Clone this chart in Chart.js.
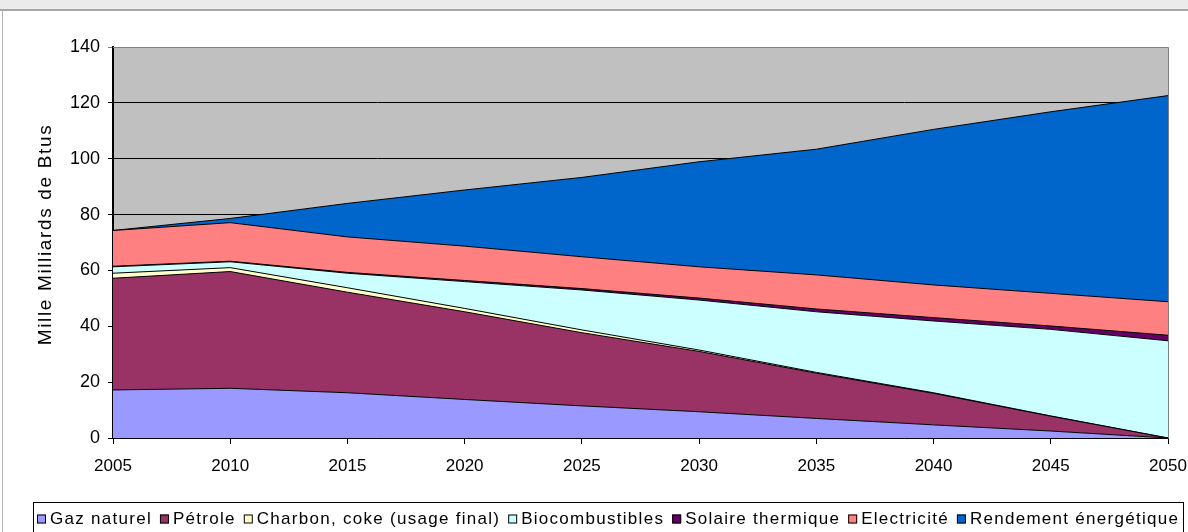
<!DOCTYPE html>
<html lang="fr">
<head>
<meta charset="utf-8">
<title>Consommation d'énergie 2005-2050</title>
<script src="https://cdn.jsdelivr.net/npm/chart.js@4.4.1/dist/chart.umd.min.js"></script>
<style>
  html, body { margin: 0; padding: 0; background: #fff; overflow: hidden; width: 1188px; height: 532px; }
  #wrap { position: absolute; left: 0; top: 0; width: 1204px; height: 532px; }
  #band { position: absolute; left: 0; top: 0; width: 1188px; height: 9px; background: #ebebeb; border-bottom: 2px solid #a6a6a6; }
  #edge { position: absolute; left: 2px; top: 10px; width: 1px; height: 522px; background: #b4b4b4; }
</style>
</head>
<body>
<div id="wrap"><canvas id="c"></canvas></div>
<div id="band"></div>
<div id="edge"></div>
<script>
// Années (axe horizontal)
const years = [2005, 2010, 2015, 2020, 2025, 2030, 2035, 2040, 2045, 2050];

// Consommation par source, en mille milliards de Btus (valeurs empilées)
const gazNaturel      = [17.2, 17.8, 16.2, 13.8, 11.5, 9.4, 7.0, 4.7, 2.5, 0];
const petrole         = [40.0, 41.8, 36.0, 31.4, 26.2, 21.6, 16.2, 11.3, 5.3, 0];
const charbon         = [1.8, 1.4, 1.6, 1.2, 1.0, 0.5, 0.3, 0.2, 0.1, 0];
const biocombustibles = [2.3, 2.1, 5.2, 9.6, 14.3, 17.9, 21.7, 25.7, 31.0, 34.8];
const solaire         = [0.2, 0.2, 0.3, 0.4, 0.5, 0.7, 1.0, 1.2, 1.2, 2.0];
const electricite     = [12.8, 13.8, 12.7, 12.3, 11.4, 11.2, 12.2, 11.7, 11.7, 12.0];
const rendement       = [0, 1.5, 12.0, 20.1, 28.4, 37.6, 45.0, 55.7, 65.0, 73.8];

const seriesNames = ['Gaz naturel', 'Pétrole', 'Charbon, coke (usage final)', 'Biocombustibles',
                     'Solaire thermique', 'Electricité', 'Rendement énergétique'];
const seriesValues = [gazNaturel, petrole, charbon, biocombustibles, solaire, electricite, rendement];
const seriesColors = ['#9999FF', '#993366', '#FFFFCC', '#CCFFFF', '#660066', '#FF8080', '#0066CC'];

const yTitle = 'Mille Milliards de Btus';
const yTicks = { min: 0, max: 140, step: 20 };
const xTicks = { min: 2005, max: 2050, step: 5 };

const FONT = '"Liberation Sans", Arial, sans-serif';

const datasets = seriesNames.map((name, i) => ({
  label: name,
  data: years.map((yr, j) => ({ x: yr, y: seriesValues[i][j] })),
  backgroundColor: seriesColors[i],
  borderColor: '#000',
  borderWidth: 1,
  pointRadius: 0,
  tension: 0,
  fill: i === 0 ? 'origin' : '-1'
}));

// Fond gris de la zone de traçage et son cadre
const plotBackground = {
  id: 'plotBackground',
  beforeDraw(chart) {
    const { ctx, chartArea: a } = chart;
    ctx.save();
    ctx.fillStyle = '#C0C0C0';
    ctx.fillRect(a.left, a.top, a.right - a.left, a.bottom - a.top);
    ctx.restore();
  },
  afterDatasetsDraw(chart) {
    const { ctx, chartArea: a } = chart;
    ctx.save();
    ctx.strokeStyle = '#808080';
    ctx.lineWidth = 1;
    ctx.beginPath();
    ctx.moveTo(a.left, a.top + 0.5);
    ctx.lineTo(a.right + 0.5, a.top + 0.5);
    ctx.lineTo(a.right + 0.5, a.bottom);
    ctx.stroke();
    ctx.restore();
  }
};

// Titre vertical de l'axe des valeurs
const axisTitle = {
  id: 'axisTitle',
  afterDraw(chart) {
    const ctx = chart.ctx;
    const a = chart.chartArea;
    ctx.save();
    ctx.font = '19px ' + FONT;
    const natural = ctx.measureText(yTitle).width;
    const ls = (220 - natural) / (yTitle.length - 1);
    ctx.letterSpacing = Math.max(0, ls).toFixed(2) + 'px';
    ctx.translate(46, (a.top + a.bottom) / 2 - 8);
    ctx.rotate(-Math.PI / 2);
    ctx.textAlign = 'center';
    ctx.textBaseline = 'middle';
    ctx.fillStyle = '#000';
    ctx.fillText(yTitle, 0, 0);
    ctx.restore();
  }
};

// Légende encadrée sur une ligne, sous le graphique
const boxLegend = {
  id: 'boxLegend',
  afterDraw(chart) {
    const ctx = chart.ctx;
    const L = 33.5, T = 502.5, R = 1183.5, cy = 519;
    ctx.save();
    ctx.strokeStyle = '#000';
    ctx.lineWidth = 1;
    ctx.strokeRect(L, T, R - L, 40);
    ctx.font = '17px ' + FONT;
    const sets = chart.data.datasets;
    const sq = 9, gapText = 4, gapItem = 8;
    let natural = 0, chars = 0;
    sets.forEach(d => { natural += ctx.measureText(d.label).width; chars += d.label.length; });
    const fixed = sets.length * (sq + gapText) + (sets.length - 1) * gapItem;
    const avail = (R - L) - 8 - fixed;
    const ls = Math.max(-0.5, Math.min(2, (avail - natural) / chars));
    ctx.letterSpacing = ls.toFixed(2) + 'px';
    ctx.textBaseline = 'middle';
    let x = L + 3.5;
    sets.forEach(d => {
      ctx.fillStyle = d.backgroundColor;
      ctx.fillRect(x, cy - 4.5, sq, sq);
      ctx.strokeRect(x + 0.5, cy - 4, sq - 1, sq - 1);
      ctx.fillStyle = '#000';
      ctx.fillText(d.label, x + sq + gapText, cy);
      x += sq + gapText + ctx.measureText(d.label).width + gapItem;
    });
    ctx.restore();
  }
};

new Chart(document.getElementById('c'), {
  type: 'line',
  data: { datasets },
  plugins: [plotBackground, axisTitle, boxLegend],
  options: {
    responsive: true,
    maintainAspectRatio: false,
    animation: false,
    devicePixelRatio: 1,
    layout: { padding: { left: 0, top: 47, right: 36, bottom: 54 } },
    plugins: {
      legend: { display: false },
      tooltip: { enabled: false },
      filler: { propagate: false }
    },
    elements: { line: { borderJoinStyle: 'miter' } },
    scales: {
      x: {
        type: 'linear',
        min: xTicks.min,
        max: xTicks.max,
        afterFit(scale) { scale.height = 40; },
        ticks: {
          stepSize: xTicks.step,
          color: '#000',
          font: { family: FONT, size: 17 },
          padding: 12,
          maxRotation: 0,
          callback: v => String(v)
        },
        grid: { drawOnChartArea: false, drawTicks: true, tickLength: 6, color: '#000', lineWidth: 1 },
        border: { color: '#000', width: 1.5 }
      },
      y: {
        stacked: true,
        min: yTicks.min,
        max: yTicks.max,
        afterFit(scale) { scale.width = 113; },
        ticks: {
          stepSize: yTicks.step,
          color: '#000',
          font: { family: FONT, size: 18 },
          padding: 8
        },
        grid: {
          color: ctx => (ctx.tick && ctx.tick.value === yTicks.max) ? '#808080' : '#000',
          lineWidth: 1,
          tickLength: 5,
          drawTicks: true
        },
        border: { color: '#000', width: 2 }
      }
    }
  }
});
</script>
</body>
</html>
